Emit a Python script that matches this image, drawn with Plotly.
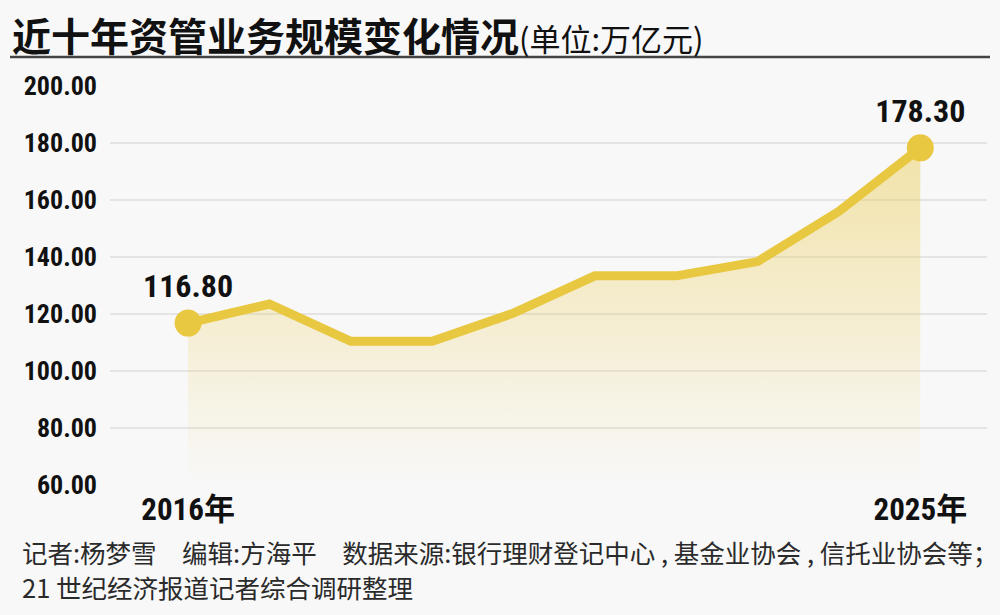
import plotly.graph_objects as go

years = [2016, 2017, 2018, 2019, 2020, 2021, 2022, 2023, 2024, 2025]
scale = [116.8, 123.5, 110.4, 110.4, 120.3, 133.4, 133.4, 138.4, 156.0, 178.3]
end_years = [2016, 2025]
end_vals = [116.8, 178.3]
end_labels = ["116.80", "178.30"]
y_ticks = [60, 80, 100, 120, 140, 160, 180, 200]
x_tickvals = [2016, 2025]
x_ticktext = ["2016年", "2025年"]

title_main = "近十年资管业务规模变化情况"
title_unit = "(单位:万亿元)"
footer1 = "记者:杨梦雪　编辑:方海平　数据来源:银行理财登记中心 , 基金业协会 , 信托业协会等；"
footer2 = "21 世纪经济报道记者综合调研整理"

W, H = 1000, 615
L, R, T, B = 110, 13, 86, 130
pw, ph = W - L - R, H - T - B

def px(x):
    return (x - L) / pw

def py(y):
    return (H - B - y) / ph

NUM = "Liberation Sans Narrow, Roboto Condensed, Liberation Sans, Arial"
CJK = "Noto Sans CJK SC"
LINE = "#E9C841"
BG = "#F8F8F8"

fig = go.Figure()
fig.add_trace(go.Scatter(
    x=years, y=scale, mode="lines",
    line=dict(color=LINE, width=9),
    fill="tozeroy",
    fillgradient=dict(type="vertical", start=60, stop=178.3,
                      colorscale=[[0, "rgba(236,205,90,0.0)"],
                                  [1, "rgba(236,205,90,0.5)"]]),
    hoverinfo="skip", showlegend=False,
))
fig.add_trace(go.Scatter(
    x=end_years, y=end_vals, mode="markers+text",
    marker=dict(color=LINE, size=27),
    text=end_labels, textposition="top center",
    textfont=dict(family=NUM, size=32, color="#111111", weight="bold"),
    showlegend=False, hoverinfo="skip",
))

fig.update_layout(
    width=W, height=H,
    margin=dict(l=L, r=R, t=T, b=B),
    paper_bgcolor=BG, plot_bgcolor=BG,
    showlegend=False,
    xaxis=dict(range=[2015.04, 2025.82], tickvals=x_tickvals, ticktext=x_ticktext,
               showgrid=False, zeroline=False, showline=False,
               tickfont=dict(family=NUM + ", " + CJK, size=31, color="#111111", weight="bold"),
               ticklabelstandoff=3),
    yaxis=dict(range=[60, 200], tickvals=y_ticks, tickformat=".2f",
               showgrid=True, gridcolor="#E4E4E4", gridwidth=1.5,
               zeroline=False, showline=False,
               tickfont=dict(family=NUM, size=26, color="#111111", weight="bold"),
               ticklabelstandoff=12),
    annotations=[
        dict(xref="paper", yref="paper", x=px(10), y=py(34), xanchor="left", yanchor="middle",
             text=f"<b>{title_main}</b><span style='font-size:31px'>{title_unit}</span>",
             showarrow=False, font=dict(family=CJK, size=39, color="#111111")),
        dict(xref="paper", yref="paper", x=px(20), y=py(551), xanchor="left", yanchor="middle",
             text=footer1, align="left",
             showarrow=False, font=dict(family=CJK, size=25.5, color="#2a2a2a")),
        dict(xref="paper", yref="paper", x=px(20), y=py(586), xanchor="left", yanchor="middle",
             text=footer2, align="left",
             showarrow=False, font=dict(family=CJK, size=25.5, color="#2a2a2a")),
    ],
    shapes=[
        dict(type="line", xref="paper", yref="paper", x0=px(10), x1=px(990),
             y0=py(57), y1=py(57), line=dict(color="#444444", width=2.5)),
    ],
)

fig.write_html("out.html", config={"displayModeBar": False},
               post_script="document.body.style.margin='0';document.body.style.overflow='hidden';")
